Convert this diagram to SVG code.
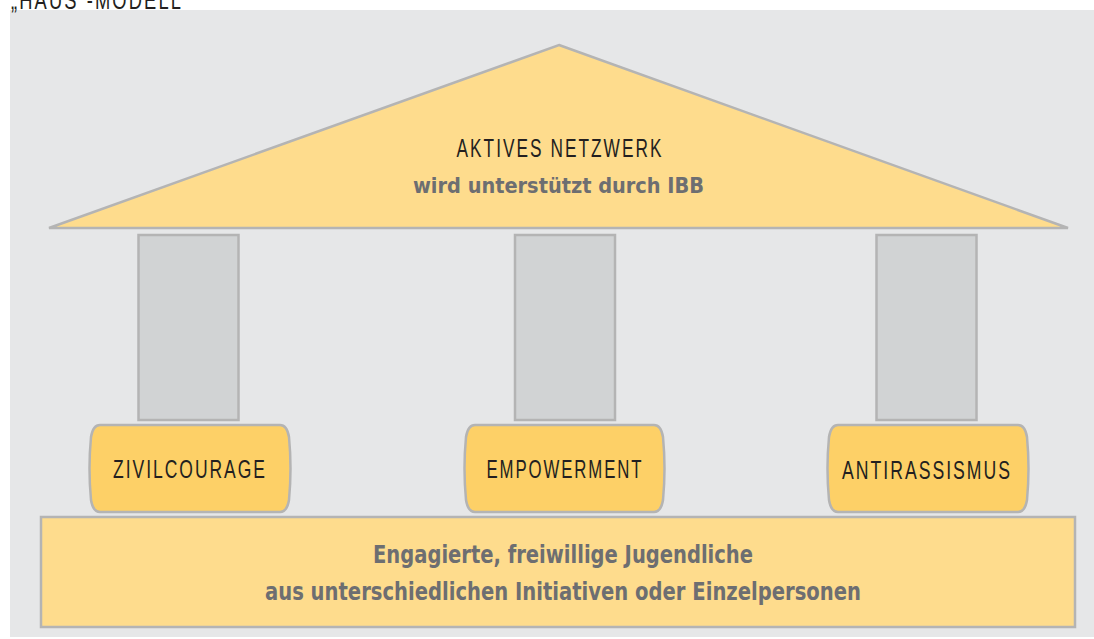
<svg xmlns="http://www.w3.org/2000/svg" width="1094" height="639" viewBox="0 0 1094 639">
<style>
.bg{fill:#e6e7e8}
.roof{fill:#fedc8d;stroke:#b4b4b4;stroke-width:2.5}
.pillar{fill:#d1d3d4;stroke:#b4b4b4;stroke-width:2.5}
.cap{fill:#fdd067;stroke:#b4b4b4;stroke-width:2.5}
.base{fill:#fedc8d;stroke:#b4b4b4;stroke-width:2.5}
.dark{font-family:"Liberation Sans",Arial,sans-serif;fill:#231f20;font-weight:normal;text-anchor:middle;letter-spacing:3px}
.grey{font-family:"DejaVu Sans Condensed","Liberation Sans",sans-serif;fill:#6d6e71;font-weight:bold;text-anchor:middle}
</style>
<rect x="0" y="0" width="1094" height="639" fill="#ffffff"/>
<rect class="bg" x="10" y="10" width="1084" height="627"/>
<text class="dark" x="97" y="9" font-size="26" textLength="172" lengthAdjust="spacingAndGlyphs">„HAUS“-MODELL</text>
<g id="roof">
<polygon class="roof" points="559,45 1068,228 49,228"/>
<text class="dark" x="560" y="157" font-size="25.5" textLength="207" lengthAdjust="spacingAndGlyphs">AKTIVES NETZWERK</text>
<text class="grey" x="558.5" y="193" font-size="21" textLength="291" lengthAdjust="spacingAndGlyphs">wird unterstützt durch IBB</text>
</g>
<g id="pillar1"><rect class="pillar" x="138.5" y="235" width="100" height="185"/></g>
<g id="pillar2"><rect class="pillar" x="515" y="235" width="100" height="185"/></g>
<g id="pillar3"><rect class="pillar" x="876.5" y="235" width="100" height="185"/></g>
<g id="zivilcourage">
<path class="cap" d="M100,425 H280 Q287,425 289,437 Q292,468.5 289,500 Q287,512 280,512 H100 Q93,512 91,500 Q88,468.5 91,437 Q93,425 100,425 Z"/>
<text class="dark" x="190" y="478" font-size="26.5" textLength="154" lengthAdjust="spacingAndGlyphs">ZIVILCOURAGE</text>
</g>
<g id="empowerment">
<path class="cap" d="M475,425 H654 Q661,425 663,437 Q666,468.5 663,500 Q661,512 654,512 H475 Q468,512 466,500 Q463,468.5 466,437 Q468,425 475,425 Z"/>
<text class="dark" x="565" y="478" font-size="26.5" textLength="157" lengthAdjust="spacingAndGlyphs">EMPOWERMENT</text>
</g>
<g id="antirassismus">
<path class="cap" d="M838,425 H1018 Q1025,425 1027,437 Q1030,468.5 1027,500 Q1025,512 1018,512 H838 Q831,512 829,500 Q826,468.5 829,437 Q831,425 838,425 Z"/>
<text class="dark" x="927" y="479" font-size="26.5" textLength="170" lengthAdjust="spacingAndGlyphs">ANTIRASSISMUS</text>
</g>
<g id="base">
<rect class="base" x="41" y="517" width="1034" height="110"/>
<text class="grey" x="563" y="563" font-size="25" textLength="380" lengthAdjust="spacingAndGlyphs">Engagierte, freiwillige Jugendliche</text>
<text class="grey" x="563" y="600" font-size="25" textLength="596" lengthAdjust="spacingAndGlyphs">aus unterschiedlichen Initiativen oder Einzelpersonen</text>
</g>
<g id="connectors"></g>
</svg>
